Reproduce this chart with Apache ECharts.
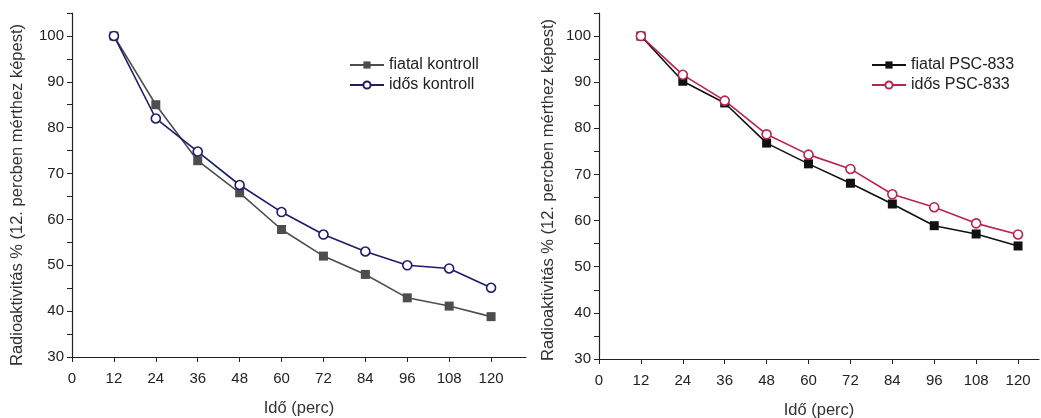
<!DOCTYPE html>
<html>
<head>
<meta charset="utf-8">
<script src="https://cdn.jsdelivr.net/npm/echarts@6/dist/echarts.min.js"></script>
<style>
  html, body { margin: 0; padding: 0; background: #fff; }
  #chart { width: 1041px; height: 418px; }
</style>
</head>
<body>
<div id="chart"></div>
<script>
var times = [12, 24, 36, 48, 60, 72, 84, 96, 108, 120];
var xTicks = [0, 12, 24, 36, 48, 60, 72, 84, 96, 108, 120];

var fiatalKontroll = [100, 85, 72.8, 65.8, 57.8, 52, 48, 42.9, 41.1, 38.8];
var idosKontroll = [100, 82, 74.8, 67.5, 61.6, 56.7, 53, 50, 49.3, 45.1];
var fiatalPSC = [100, 90.2, 85.5, 76.8, 72.3, 68.1, 63.6, 58.9, 57.1, 54.5];
var idosPSC = [100, 91.6, 86, 78.7, 74.3, 71.2, 65.7, 62.9, 59.4, 57];

var yTitle = 'Radioaktivitás % (12. percben mérthez képest)';
var xTitle = 'Idő (perc)';
var font = 'Liberation Sans, Arial, sans-serif';

function pairs(ys) {
    return times.map(function (t, i) { return [t, ys[i]]; });
}

function xAxisFor(idx, max) {
    return {
        gridIndex: idx,
        type: 'value',
        min: 0,
        max: max,
        name: xTitle,
        nameLocation: 'middle',
        nameGap: 43,
        nameTextStyle: { fontFamily: font, fontSize: 16.5, color: '#333' },
        axisLine: { lineStyle: { color: '#222', width: 1.2 } },
        axisTick: { length: 5, customValues: xTicks, lineStyle: { color: '#222' } },
        axisLabel: { customValues: xTicks, margin: 14, fontFamily: font, fontSize: 15, color: '#222' },
        splitLine: { show: false }
    };
}

function yAxisFor(idx, gap, shift) {
    return {
        gridIndex: idx,
        type: 'value',
        min: 30,
        max: 105,
        interval: 5,
        name: yTitle,
        nameLocation: 'middle',
        nameGap: gap,
        nameTextStyle: { fontFamily: font, fontSize: 16.5, color: '#333', padding: [0, shift, 0, 0] },
        axisLine: { show: true, lineStyle: { color: '#222', width: 1.2 } },
        axisTick: { show: true, length: 5, lineStyle: { color: '#222' } },
        axisLabel: {
            margin: 8,
            fontFamily: font,
            fontSize: 15,
            color: '#222',
            formatter: function (v) { return (v % 10 === 0 && v <= 100) ? v : ''; }
        },
        splitLine: { show: false }
    };
}

function squareSeries(name, data, idx, color) {
    return {
        name: name,
        type: 'line',
        xAxisIndex: idx,
        yAxisIndex: idx,
        data: pairs(data),
        symbol: 'rect',
        symbolSize: 9,
        lineStyle: { color: color, width: 1.6 },
        itemStyle: { color: color, borderWidth: 0 }
    };
}

function circleSeries(name, data, idx, color) {
    return {
        name: name,
        type: 'line',
        xAxisIndex: idx,
        yAxisIndex: idx,
        data: pairs(data),
        symbol: 'circle',
        symbolSize: 9,
        lineStyle: { color: color, width: 1.6 },
        itemStyle: { color: '#fff', borderColor: color, borderWidth: 1.6 }
    };
}

var chartDom = document.getElementById('chart');
var myChart = echarts.init(chartDom);
var option;

option = {
    backgroundColor: '#fff',
    animation: false,
    grid: [
        { left: 72, top: 13, width: 454, bottom: 61, outerBoundsMode: 'none' },
        { left: 599, top: 13, width: 440, bottom: 59, outerBoundsMode: 'none' }
    ],
    legend: [
        {
            data: ['fiatal kontroll', 'idős kontroll'],
            orient: 'vertical',
            left: 344,
            top: 52,
            itemWidth: 34,
            itemHeight: 9,
            itemGap: 4,
            textStyle: { fontFamily: font, fontSize: 16, color: '#222' }
        },
        {
            data: ['fiatal PSC-833', 'idős PSC-833'],
            orient: 'vertical',
            left: 866,
            top: 52,
            itemWidth: 34,
            itemHeight: 9,
            itemGap: 4,
            textStyle: { fontFamily: font, fontSize: 16, color: '#222' }
        }
    ],
    xAxis: [xAxisFor(0, 130), xAxisFor(1, 126)],
    yAxis: [yAxisFor(0, 46, 20), yAxisFor(1, 42, 8)],
    series: [
        squareSeries('fiatal kontroll', fiatalKontroll, 0, '#4d4d4d'),
        circleSeries('idős kontroll', idosKontroll, 0, '#1c1c6b'),
        squareSeries('fiatal PSC-833', fiatalPSC, 1, '#111111'),
        circleSeries('idős PSC-833', idosPSC, 1, '#b8244c')
    ]
};
option && myChart.setOption(option);
</script>
</body>
</html>
